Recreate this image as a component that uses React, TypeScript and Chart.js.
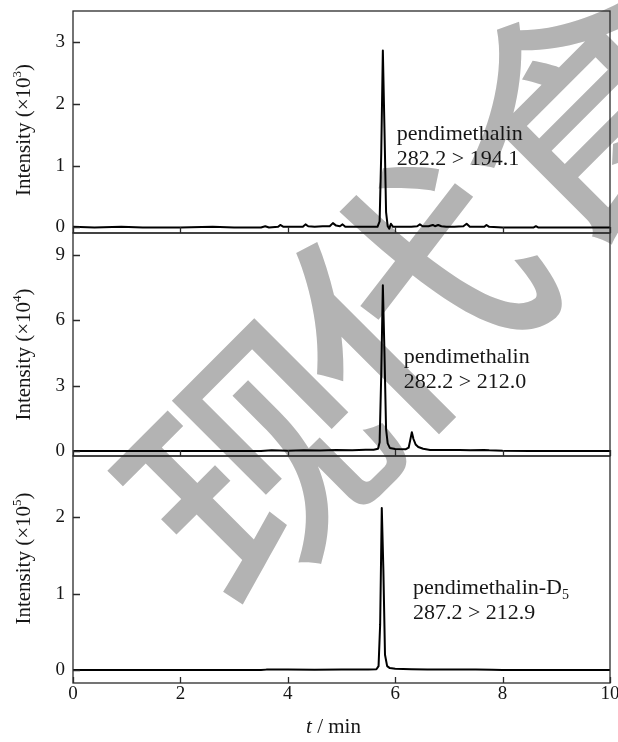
import React, { useEffect, useRef } from 'react';
import { Chart, registerables } from 'chart.js';

Chart.register(...registerables);

// ---------- data ----------
const xTicks = [0, 2, 4, 6, 8, 10];
const topTicks = [0, 1, 2, 3];
const midTicks = [0, 3, 6, 9];
const bottomTicks = [0, 1, 2];

const panelExponents = ['3', '4', '5'];
const compoundNames = ['pendimethalin', 'pendimethalin', 'pendimethalin-D'];
const compoundSubscripts = ['', '', '5'];
const transitions = ['282.2 > 194.1', '282.2 > 212.0', '287.2 > 212.9'];
const xTitleItalic = 't';
const xTitleRest = ' / min';
const yTitleText = 'Intensity (×10';
const watermarkText = '现代食品科技';

// retention time (min), intensity (x10^3)
const trace194: [number, number][] = [
  [0, 0.01], [0.4, 0.0], [0.9, 0.01], [1.3, 0.0], [2.0, 0.0], [2.6, 0.01], [3.0, 0.0],
  [3.5, 0.0], [3.58, 0.02], [3.65, 0.0], [3.82, 0.01], [3.86, 0.04], [3.92, 0.01],
  [4.1, 0.01], [4.28, 0.01], [4.33, 0.05], [4.38, 0.02], [4.5, 0.01], [4.65, 0.02],
  [4.78, 0.02], [4.84, 0.07], [4.9, 0.03], [4.97, 0.02], [5.02, 0.05], [5.07, 0.01],
  [5.3, 0.01], [5.5, 0.01], [5.67, 0.01], [5.71, 0.1], [5.74, 1.2], [5.77, 2.87],
  [5.8, 1.6], [5.83, 0.25], [5.86, 0.02], [5.89, -0.02], [5.92, 0.06], [5.96, 0.01],
  [6.1, 0.01], [6.3, 0.01], [6.41, 0.02], [6.46, 0.05], [6.51, 0.02], [6.62, 0.02],
  [6.7, 0.04], [6.74, 0.02], [6.8, 0.04], [6.86, 0.02], [6.95, 0.01], [7.1, 0.01],
  [7.27, 0.02], [7.33, 0.06], [7.39, 0.01], [7.55, 0.01], [7.66, 0.01], [7.7, 0.04],
  [7.75, 0.01], [8.0, 0.0], [8.3, 0.0], [8.58, 0.0], [8.62, 0.02], [8.66, 0.0],
  [9.0, 0.0], [9.5, 0.0], [10, 0.0],
];

// retention time (min), intensity (x10^4)
const trace212: [number, number][] = [
  [0, 0.0], [1, 0.0], [2, 0.0], [3, 0.0], [3.5, 0.0], [3.7, 0.03], [4.0, 0.01],
  [4.3, 0.03], [4.6, 0.02], [4.9, 0.04], [5.2, 0.03], [5.45, 0.06], [5.6, 0.06],
  [5.68, 0.1], [5.71, 0.4], [5.74, 3.5], [5.77, 7.6], [5.8, 4.5], [5.83, 1.0],
  [5.86, 0.35], [5.9, 0.14], [6.0, 0.09], [6.2, 0.08], [6.25, 0.15], [6.28, 0.5],
  [6.31, 0.86], [6.34, 0.55], [6.38, 0.3], [6.43, 0.18], [6.52, 0.1], [6.65, 0.05],
  [6.9, 0.04], [7.2, 0.05], [7.4, 0.03], [7.65, 0.05], [7.75, 0.03], [8.0, 0.01],
  [8.5, 0.0], [9, 0.0], [10, 0.0],
];

// retention time (min), intensity (x10^5)
const traceD5: [number, number][] = [
  [0, 0], [1, 0], [2, 0], [3, 0], [3.5, 0], [3.6, 0.005], [4.0, 0.005], [4.5, 0.004],
  [5.0, 0.005], [5.5, 0.006], [5.65, 0.01], [5.69, 0.05], [5.72, 0.6], [5.75, 2.12],
  [5.78, 1.3], [5.81, 0.2], [5.85, 0.05], [5.9, 0.025], [6.0, 0.015], [6.3, 0.01],
  [6.6, 0.008], [7.0, 0.006], [7.5, 0.005], [7.8, 0.004], [8.0, 0], [9, 0], [10, 0],
];

// ---------- styling ----------
const SERIF = '"Liberation Serif", "Times New Roman", serif';
const INK = '#161616';

const annotationAnchors = [
  { x: 6.03, y: 1.42 },
  { x: 6.16, y: 4.04 },
  { x: 6.33, y: 1.0 },
];
const yTitleOffsets = [8, 10, -11];
const watermarkAnchors = [
  [258, 462],
  [412, 298],
  [582, 112],
  [752, -64],
  [922, -240],
  [1092, -416],
];

const decorPlugin = {
  id: 'decor',
  beforeDraw(chart: any) {
    const ctx = chart.ctx;
    ctx.save();
    ctx.fillStyle = '#ffffff';
    ctx.fillRect(0, 0, chart.width, chart.height);
    ctx.fillStyle = 'rgb(179,179,179)';
    ctx.font = '500 250px "Noto Sans CJK SC"';
    ctx.textAlign = 'center';
    ctx.textBaseline = 'middle';
    Array.from(watermarkText).forEach((ch, i) => {
      const [wx, wy] = watermarkAnchors[i];
      ctx.save();
      ctx.translate(wx, wy);
      ctx.rotate(-Math.PI / 4);
      ctx.fillText(ch, 0, 0);
      ctx.restore();
    });
    ctx.restore();
  },
  afterDraw(chart: any) {
    const { ctx, chartArea, scales } = chart;
    const panels = [scales.yTop, scales.yMid, scales.yBot];
    const tickSets = [topTicks, midTicks, bottomTicks];
    ctx.save();
    ctx.strokeStyle = '#2a2a2a';
    ctx.lineWidth = 1.3;
    panels.forEach((s: any, i: number) => {
      ctx.strokeRect(chartArea.left, s.top, chartArea.right - chartArea.left, s.bottom - s.top);
      ctx.beginPath();
      tickSets[i].forEach((v) => {
        const y = Math.round(s.getPixelForValue(v)) + 0.5;
        ctx.moveTo(chartArea.left, y);
        ctx.lineTo(chartArea.left + 7, y);
      });
      xTicks.forEach((v) => {
        const x = Math.round(scales.x.getPixelForValue(v)) + 0.5;
        ctx.moveTo(x, s.bottom);
        ctx.lineTo(x, s.bottom - 6);
      });
      ctx.stroke();
    });

    ctx.fillStyle = INK;
    // y titles
    panels.forEach((s: any, i: number) => {
      const cy = (s.top + s.bottom) / 2 + yTitleOffsets[i];
      ctx.save();
      ctx.translate(23, cy);
      ctx.rotate(-Math.PI / 2);
      ctx.textBaseline = 'alphabetic';
      ctx.textAlign = 'left';
      ctx.font = `21px ${SERIF}`;
      const w1 = ctx.measureText(yTitleText).width;
      const w3 = ctx.measureText(')').width;
      ctx.font = `13px ${SERIF}`;
      const w2 = ctx.measureText(panelExponents[i]).width;
      const start = -(w1 + w2 + w3) / 2;
      ctx.font = `21px ${SERIF}`;
      ctx.fillText(yTitleText, start, 7);
      ctx.font = `13px ${SERIF}`;
      ctx.fillText(panelExponents[i], start + w1, -2);
      ctx.font = `21px ${SERIF}`;
      ctx.fillText(')', start + w1 + w2, 7);
      ctx.restore();
    });

    // annotations
    panels.forEach((s: any, i: number) => {
      const x = scales.x.getPixelForValue(annotationAnchors[i].x);
      const y = s.getPixelForValue(annotationAnchors[i].y);
      ctx.textAlign = 'left';
      ctx.textBaseline = 'alphabetic';
      ctx.font = `22px ${SERIF}`;
      ctx.fillText(compoundNames[i], x, y);
      if (compoundSubscripts[i]) {
        const w = ctx.measureText(compoundNames[i]).width;
        ctx.font = `14px ${SERIF}`;
        ctx.fillText(compoundSubscripts[i], x + w, y + 5);
        ctx.font = `22px ${SERIF}`;
      }
      ctx.fillText(transitions[i], x, y + 25);
    });

    // x title
    ctx.font = `italic 21px ${SERIF}`;
    const wt = ctx.measureText(xTitleItalic).width;
    ctx.font = `21px ${SERIF}`;
    const wr = ctx.measureText(xTitleRest).width;
    const cx = (chartArea.left + chartArea.right) / 2 - 8;
    const sx = cx - (wt + wr) / 2;
    ctx.textAlign = 'left';
    ctx.textBaseline = 'alphabetic';
    ctx.font = `italic 21px ${SERIF}`;
    ctx.fillText(xTitleItalic, sx, 733);
    ctx.font = `21px ${SERIF}`;
    ctx.fillText(xTitleRest, sx + wt, 733);
    ctx.restore();
  },
};

function yScale(min: number, max: number, ticks: number[], weight: number, stackWeight: number) {
  return {
    type: 'linear',
    position: 'left',
    stack: 'panels',
    stackWeight,
    weight,
    min,
    max,
    afterBuildTicks: (s: any) => {
      s.ticks = ticks.map((v) => ({ value: v }));
    },
    afterFit: (s: any) => {
      s.width = 73;
      s.paddingTop = 0;
      s.paddingBottom = 0;
    },
    grid: { display: false, drawTicks: false },
    border: { display: false },
    ticks: { font: { family: SERIF, size: 19 }, color: INK, padding: 8, autoSkip: false },
  };
}

function lineSet(points: [number, number][], axis: string) {
  return {
    data: points.map(([x, y]) => ({ x, y })),
    yAxisID: axis,
    borderColor: '#000',
    borderWidth: 2,
    pointRadius: 0,
    tension: 0,
    borderJoinStyle: 'round',
    fill: false,
  };
}

export default function App() {
  const ref = useRef<HTMLCanvasElement>(null);
  useEffect(() => {
    if (!ref.current) return;
    const chart = new Chart(ref.current, {
      type: 'line',
      data: {
        datasets: [
          lineSet(trace194, 'yTop'),
          lineSet(trace212, 'yMid'),
          lineSet(traceD5, 'yBot'),
        ] as any,
      },
      options: {
        responsive: false,
        animation: false,
        layout: { padding: { top: 11, right: 8, left: 0, bottom: 0 } },
        plugins: { legend: { display: false }, tooltip: { enabled: false } },
        scales: {
          x: {
            type: 'linear',
            min: 0,
            max: 10,
            afterBuildTicks: (s: any) => {
              s.ticks = xTicks.map((v) => ({ value: v }));
            },
            afterFit: (s: any) => {
              s.height = 59;
              s.paddingLeft = 0;
              s.paddingRight = 0;
            },
            grid: { display: false, drawTicks: false },
            border: { display: false },
            ticks: { font: { family: SERIF, size: 19 }, color: INK, padding: 0, maxRotation: 0, autoSkip: false },
          },
          yTop: yScale(-0.09, 3.51, topTicks, 3, 222),
          yMid: yScale(-0.23, 10.0, midTicks, 2, 223),
          yBot: yScale(-0.17, 2.8, bottomTicks, 1, 227),
        } as any,
      },
      plugins: [decorPlugin],
    });
    return () => chart.destroy();
  }, []);
  return (
    <div style={{ position: 'absolute', left: 0, top: 0, width: 618, height: 742, background: '#fff' }}>
      <canvas ref={ref} width={618} height={742} style={{ display: 'block' }} />
    </div>
  );
}
